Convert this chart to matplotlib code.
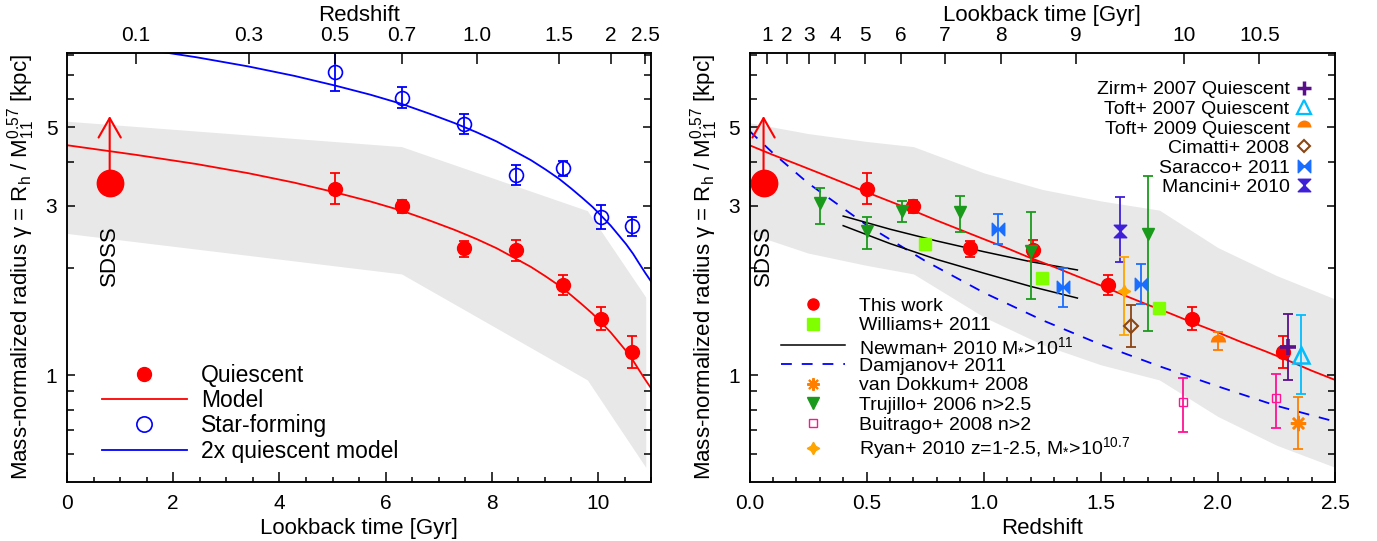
import numpy as np
import matplotlib
matplotlib.use("Agg")
import matplotlib.pyplot as plt
from matplotlib.lines import Line2D
from matplotlib.path import Path
from matplotlib.ticker import FixedLocator, MultipleLocator, NullFormatter, NullLocator

plt.rcParams['font.family'] = ['Liberation Sans', 'DejaVu Sans']
plt.rcParams['mathtext.fontset'] = 'custom'
plt.rcParams['mathtext.rm'] = 'Liberation Sans'
plt.rcParams['mathtext.it'] = 'Liberation Sans:italic'
plt.rcParams['mathtext.default'] = 'regular'
plt.rcParams['axes.linewidth'] = 1.1

# ---- cosmology (flat LCDM, H0=70, Om=0.3) used for the redshift <-> lookback axes
H0, OM, OL = 70.0, 0.3, 0.7
A_AGE = 2.0 / (3.0 * np.sqrt(OL)) * 977.8 / H0
K_AGE = np.sqrt(OL / OM)


def age(z):
    return A_AGE * np.arcsinh(K_AGE * (1.0 + np.asarray(z, float)) ** -1.5)


def lookback(z):
    return age(0.0) - age(z)


def z_from_lookback(t):
    s = np.sinh((age(0.0) - np.asarray(t, float)) / A_AGE) / K_AGE
    return s ** (-2.0 / 3.0) - 1.0


# ---- data
z_q = [0.50, 0.70, 0.94, 1.21, 1.53, 1.89, 2.28]
gamma_q = [3.36, 2.99, 2.28, 2.26, 1.80, 1.44, 1.16]
gamma_q_hi = [3.72, 3.12, 2.39, 2.41, 1.92, 1.56, 1.29]
gamma_q_lo = [3.04, 2.87, 2.16, 2.10, 1.68, 1.34, 1.05]

gamma_sf = [7.16, 6.05, 5.10, 3.67, 3.83, 2.80, 2.63]
gamma_sf_hi = [8.30, 6.50, 5.45, 3.91, 4.03, 3.02, 2.80]
gamma_sf_lo = [6.32, 5.65, 4.78, 3.44, 3.65, 2.59, 2.47]

z_sdss = 0.06
gamma_sdss = 3.48
gamma_sdss_limit = 5.38

z_model = [0.0, 0.1, 0.2, 0.3, 0.4, 0.5, 0.6, 0.7, 0.8, 0.9, 1.0, 1.1, 1.2, 1.3, 1.4,
           1.5, 1.6, 1.7, 1.8, 1.9, 2.0, 2.1, 2.2, 2.3, 2.4, 2.5, 2.6, 2.7, 2.8]
gamma_model = [4.45, 4.18, 3.94, 3.71, 3.49, 3.28, 3.09, 2.91, 2.73, 2.57, 2.42, 2.28, 2.14,
               2.02, 1.90, 1.79, 1.68, 1.58, 1.49, 1.40, 1.32, 1.24, 1.17, 1.10, 1.03,
               0.97, 0.92, 0.86, 0.81]

t_band = [0.0, 6.3, 9.8, 10.9]
band_hi_t = [5.20, 4.41, 2.91, 1.66]
band_lo_t = [2.51, 1.93, 0.97, 0.55]

z_band = [0, 0.25, 0.5, 0.7, 1.0, 1.25, 1.5, 1.75, 2.0, 2.25, 2.5]
band_hi_z = [5.15, 4.80, 4.56, 4.41, 3.72, 3.34, 3.10, 2.92, 2.29, 1.91, 1.64]
band_lo_z = [2.51, 2.21, 2.04, 1.93, 1.46, 1.22, 1.07, 0.97, 0.765, 0.635, 0.55]

z_dam = [0, 0.1, 0.25, 0.5, 0.75, 1.0, 1.25, 1.5, 1.75, 2.0, 2.25, 2.5]
gamma_dam = [4.88, 4.23, 3.48, 2.65, 2.10, 1.71, 1.43, 1.22, 1.06, 0.93, 0.82, 0.74]

z_newman = [0.4, 0.6, 0.8, 1.0, 1.2, 1.4]
newman_hi = [2.81, 2.58, 2.39, 2.23, 2.09, 1.98]
newman_lo = [2.64, 2.35, 2.12, 1.94, 1.78, 1.65]

z_williams = [0.75, 1.25, 1.75]
gamma_williams = [2.34, 1.88, 1.55]

z_trujillo = [0.30, 0.50, 0.65, 0.90, 1.20, 1.70]
gamma_trujillo = [3.05, 2.55, 2.91, 2.88, 2.24, 2.50]
trujillo_hi = [3.38, 2.80, 3.10, 3.21, 2.89, 3.65]
trujillo_lo = [2.67, 2.27, 2.70, 2.54, 1.64, 1.33]

z_saracco = [1.06, 1.34, 1.67]
gamma_saracco = [2.58, 1.77, 1.81]
saracco_hi = [2.85, 2.01, 2.06]
saracco_lo = [2.34, 1.56, 1.59]

z_mancini, gamma_mancini, mancini_hi, mancini_lo = [1.58], [2.55], [3.17], [2.08]
z_ryan, gamma_ryan, ryan_hi, ryan_lo = [1.60], [1.73], [2.16], [1.30]
z_cimatti, gamma_cimatti, cimatti_hi, cimatti_lo = [1.63], [1.38], [1.58], [1.20]
z_buitrago = [1.85, 2.25]
gamma_buitrago = [0.84, 0.86]
buitrago_hi = [0.985, 1.01]
buitrago_lo = [0.693, 0.708]
z_toft09, gamma_toft09, toft09_hi, toft09_lo = [2.00], [1.24], [1.32], [1.175]
z_zirm, gamma_zirm, zirm_hi, zirm_lo = [2.30], [1.20], [1.49], [0.972]
z_toft07, gamma_toft07, toft07_hi, toft07_lo = [2.355], [1.14], [1.474], [0.884]
z_vd, gamma_vd, vd_hi, vd_lo = [2.343], [0.732], [0.866], [0.618]

z_top_ticks = [0.1, 0.3, 0.5, 0.7, 1.0, 1.5, 2.0, 2.5]
z_top_labels = ['0.1', '0.3', '0.5', '0.7', '1.0', '1.5', '2', '2.5']
t_top_ticks = [1, 2, 3, 4, 5, 6, 7, 8, 9, 10, 10.5]
t_top_labels = ['1', '2', '3', '4', '5', '6', '7', '8', '9', '10', '10.5']

RED, BLUE, BAND = '#FF0000', '#0000FF', '#E8E8E8'
C_TRU, C_WIL, C_SAR, C_MAN = '#1A9A1A', '#7FFF00', '#1A6EFF', '#3F1FD8'
C_ZIRM, C_T07, C_T09, C_CIM = '#5A0F8C', '#00BFFF', '#FF7A00', '#8B4513'
C_VD, C_RYAN, C_BUI = '#FF8000', '#FFA500', '#FF1493'

codes = [Path.MOVETO, Path.LINETO, Path.LINETO, Path.CLOSEPOLY] * 2
bowtie = Path([(-1, -1), (-1, 1), (0, 0), (-1, -1), (1, -1), (1, 1), (0, 0), (1, -1)], codes)
hourglass = Path([(-1, 1), (1, 1), (0, 0), (-1, 1), (-1, -1), (1, -1), (0, 0), (-1, -1)], codes)

YLABEL = r'Mass-normalized radius γ = R$_{h}$ / M$_{11}^{0.57}$ [kpc]'
FS = 16

fig = plt.figure(figsize=(13.77, 5.41), dpi=100)
ax1 = fig.add_axes([0.0487, 0.1091, 0.4241, 0.7930])
ax2 = fig.add_axes([0.5443, 0.1091, 0.4252, 0.7930])


def errpts(ax, x, g, lo, hi, color, capsize=3.5, **kw):
    g = np.asarray(g, float)
    ax.errorbar(x, g, yerr=[g - np.asarray(lo), np.asarray(hi) - g], fmt='none',
                ecolor=color, elinewidth=1.3, capsize=capsize, capthick=1.3, zorder=3)
    ax.plot(x, g, ls='none', color=color, zorder=4, **kw)


def style_y(ax):
    ax.set_yscale('log')
    ax.set_ylim(0.5, 8.1)
    ax.yaxis.set_major_locator(FixedLocator([1, 3, 5]))
    ax.set_yticklabels(['1', '3', '5'])
    ax.yaxis.set_minor_locator(FixedLocator([0.6, 0.7, 0.8, 0.9, 2, 4, 6, 7, 8]))
    ax.yaxis.set_minor_formatter(NullFormatter())
    ax.tick_params(which='both', direction='in', right=True, top=False, labelsize=15, width=1.1)
    ax.tick_params(axis='y', which='major', length=6, pad=7)
    ax.tick_params(axis='y', which='minor', length=5)
    ax.tick_params(axis='x', which='major', length=7, pad=9)
    ax.tick_params(axis='x', which='minor', length=3.5)
    ax.set_ylabel(YLABEL, fontsize=FS, labelpad=6)


def sdss(ax, x):
    ax.plot([x], [gamma_sdss], 'o', color=RED, ms=19, zorder=5)
    ax.annotate('', xy=(x, gamma_sdss_limit), xytext=(x, gamma_sdss),
                arrowprops=dict(arrowstyle='->, head_length=0.7, head_width=0.4', color=RED,
                                lw=1.5, shrinkA=0, shrinkB=0, mutation_scale=20), zorder=5)
    ax.text(x, 2.64, 'SDSS', rotation=90, ha='center', va='top', fontsize=FS)


# ================= left panel: lookback time =================
t_q = lookback(z_q)
t_model = lookback(z_model)
ax1.fill_between(t_band, band_lo_t, band_hi_t, color=BAND, lw=0, zorder=0)
ax1.plot(t_model, gamma_model, color=RED, lw=1.3, zorder=2)
ax1.plot(t_model, 2 * np.asarray(gamma_model), color=BLUE, lw=1.3, zorder=2)
errpts(ax1, t_q, gamma_q, gamma_q_lo, gamma_q_hi, RED, marker='o', ms=10)
errpts(ax1, t_q, gamma_sf, gamma_sf_lo, gamma_sf_hi, BLUE, marker='o', ms=10,
       mfc='none', mew=1.2)
sdss(ax1, lookback(z_sdss))

ax1.set_xlim(0, 11)
ax1.xaxis.set_major_locator(FixedLocator([0, 2, 4, 6, 8, 10]))
ax1.xaxis.set_minor_locator(MultipleLocator(0.5))
style_y(ax1)
ax1.set_xlabel('Lookback time [Gyr]', fontsize=FS, labelpad=3)

top1 = ax1.twiny()
top1.set_xlim(ax1.get_xlim())
top1.set_xticks(lookback(z_top_ticks))
top1.set_xticklabels(z_top_labels)
top1.xaxis.set_minor_locator(NullLocator())
top1.tick_params(direction='in', length=8, width=1.1, labelsize=15, pad=6)
top1.set_xlabel('Redshift', fontsize=FS, labelpad=3)

h_left = [Line2D([], [], ls='none', marker='o', color=RED, ms=10),
          Line2D([], [], color=RED, lw=1.3),
          Line2D([], [], ls='none', marker='o', mfc='none', mec=BLUE, ms=11, mew=1.2),
          Line2D([], [], color=BLUE, lw=1.3)]
ax1.legend(h_left, ['Quiescent', 'Model', 'Star-forming', '2x quiescent model'],
           loc='lower left', bbox_to_anchor=(0.06, 0.045), frameon=False, fontsize=16.5,
           handlelength=3.7, handletextpad=0.62, labelspacing=0.1, borderpad=0,
           borderaxespad=0)

# ================= right panel: redshift =================
ax2.fill_between(z_band, band_lo_z, band_hi_z, color=BAND, lw=0, zorder=0)
ax2.plot(z_dam, gamma_dam, color=BLUE, lw=1.3, dashes=(6, 5.5), zorder=2)
ax2.plot(z_newman, newman_hi, color='black', lw=1.1, zorder=2)
ax2.plot(z_newman, newman_lo, color='black', lw=1.1, zorder=2)
ax2.plot(z_model, gamma_model, color=RED, lw=1.3, zorder=2)

errpts(ax2, z_q, gamma_q, gamma_q_lo, gamma_q_hi, RED, marker='o', ms=10)
ax2.plot(z_williams, gamma_williams, ls='none', marker='s', color=C_WIL, ms=9, zorder=4)
errpts(ax2, z_trujillo, gamma_trujillo, trujillo_lo, trujillo_hi, C_TRU, marker='v', ms=9)
errpts(ax2, z_saracco, gamma_saracco, saracco_lo, saracco_hi, C_SAR, marker=bowtie, ms=9)
errpts(ax2, z_mancini, gamma_mancini, mancini_lo, mancini_hi, C_MAN, marker=hourglass, ms=9)
errpts(ax2, z_ryan, gamma_ryan, ryan_lo, ryan_hi, C_RYAN, marker=(4, 1, 0), ms=9)
errpts(ax2, z_cimatti, gamma_cimatti, cimatti_lo, cimatti_hi, C_CIM, marker='D', ms=7.5,
       mfc='none', mew=1.5)
errpts(ax2, z_buitrago, gamma_buitrago, buitrago_lo, buitrago_hi, C_BUI, marker='s', ms=6,
       mfc='none', mew=1.0)
errpts(ax2, z_toft09, gamma_toft09, toft09_lo, toft09_hi, C_T09, marker='o', ms=11,
       fillstyle='top', markerfacecoloralt='none', mew=0)
errpts(ax2, z_zirm, gamma_zirm, zirm_lo, zirm_hi, C_ZIRM, marker='+', ms=11, mew=2.6)
errpts(ax2, z_toft07, gamma_toft07, toft07_lo, toft07_hi, C_T07, marker='^', ms=12,
       mfc='none', mew=1.8)
errpts(ax2, z_vd, gamma_vd, vd_lo, vd_hi, C_VD, marker=(8, 2, 0), ms=11, mew=1.8)
sdss(ax2, z_sdss)

ax2.set_xlim(0, 2.5)
ax2.xaxis.set_major_locator(FixedLocator([0, 0.5, 1.0, 1.5, 2.0, 2.5]))
ax2.set_xticklabels(['0.0', '0.5', '1.0', '1.5', '2.0', '2.5'])
ax2.xaxis.set_minor_locator(MultipleLocator(0.1))
style_y(ax2)
ax2.set_xlabel('Redshift', fontsize=FS, labelpad=3)

top2 = ax2.twiny()
top2.set_xlim(ax2.get_xlim())
top2.set_xticks(z_from_lookback(t_top_ticks))
top2.set_xticklabels(t_top_labels)
top2.xaxis.set_minor_locator(NullLocator())
top2.tick_params(direction='in', length=8, width=1.1, labelsize=15, pad=6)
top2.set_xlabel('Lookback time [Gyr]', fontsize=FS, labelpad=3)

h_bot = [Line2D([], [], ls='none', marker='o', color=RED, ms=8),
         Line2D([], [], ls='none', marker='s', color=C_WIL, ms=8),
         Line2D([], [], color='black', lw=1.1),
         Line2D([], [], color=BLUE, lw=1.3, dashes=(6, 5.5)),
         Line2D([], [], ls='none', marker=(8, 2, 0), color=C_VD, ms=9, mew=1.5),
         Line2D([], [], ls='none', marker='v', color=C_TRU, ms=8),
         Line2D([], [], ls='none', marker='s', mfc='none', mec=C_BUI, ms=6, mew=1.0),
         Line2D([], [], ls='none', marker=(4, 1, 0), color=C_RYAN, ms=9)]
l_bot = ['This work', 'Williams+ 2011', r'Newman+ 2010 M$_{*}$>10$^{11}$', 'Damjanov+ 2011',
         'van Dokkum+ 2008', 'Trujillo+ 2006 n>2.5', 'Buitrago+ 2008 n>2',
         r'Ryan+ 2010 z=1-2.5, M$_{*}$>10$^{10.7}$']
leg_b = ax2.legend(h_bot, l_bot, loc='lower left', bbox_to_anchor=(0.054, 0.048),
                   frameon=False, fontsize=14, handlelength=3.3, handletextpad=0.68,
                   labelspacing=0.1, borderpad=0, borderaxespad=0)
ax2.add_artist(leg_b)

h_top = [Line2D([], [], ls='none', marker='+', color=C_ZIRM, ms=10, mew=2.5),
         Line2D([], [], ls='none', marker='^', mfc='none', mec=C_T07, ms=10, mew=1.6),
         Line2D([], [], ls='none', marker='o', color=C_T09, ms=10, fillstyle='top',
                markerfacecoloralt='none', mew=0),
         Line2D([], [], ls='none', marker='D', mfc='none', mec=C_CIM, ms=6.5, mew=1.5),
         Line2D([], [], ls='none', marker=bowtie, color=C_SAR, ms=9),
         Line2D([], [], ls='none', marker=hourglass, color=C_MAN, ms=9)]
l_top = ['Zirm+ 2007 Quiescent', 'Toft+ 2007 Quiescent', 'Toft+ 2009 Quiescent',
         'Cimatti+ 2008', 'Saracco+ 2011', 'Mancini+ 2010']
ax2.legend(h_top, l_top, loc='upper right', bbox_to_anchor=(0.964, 0.935), frameon=False,
           fontsize=14, markerfirst=False, handlelength=1.0, handletextpad=0.25,
           labelspacing=0.1, borderpad=0, borderaxespad=0)

fig.savefig('out.png', dpi=100)
